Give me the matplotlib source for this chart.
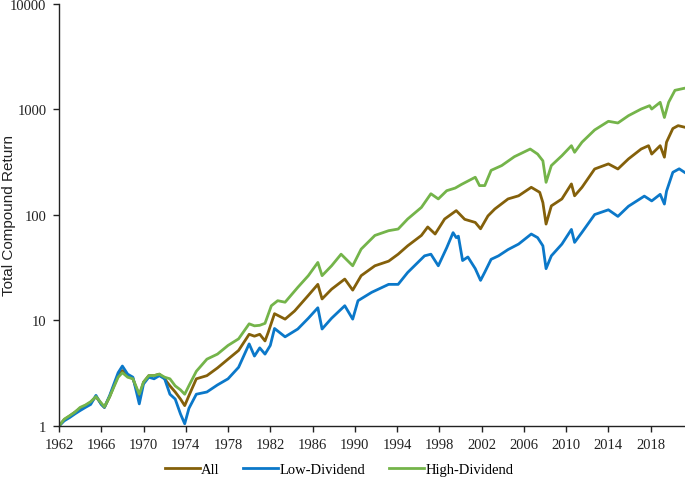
import numpy as np
import matplotlib
matplotlib.use("Agg")
import matplotlib.pyplot as plt
from matplotlib.ticker import FixedLocator, NullLocator

# Datos (ano, rendimiento compuesto total)
yrs_all = [1962.0, 1962.5, 1963.0, 1963.5, 1964.0, 1964.5, 1965.0, 1965.5, 1966.0, 1966.3,
           1966.8, 1967.2, 1967.6, 1968.0, 1968.5, 1969.0, 1969.6, 1970.0, 1970.5, 1971.0,
           1971.5, 1972.0, 1972.5, 1973.0, 1973.5, 1973.9, 1974.3, 1975.0, 1976.0, 1977.0,
           1978.0, 1979.0, 1980.0, 1980.5, 1981.0, 1981.5, 1981.8, 1982.4, 1983.4, 1984.3,
           1985.6, 1986.5, 1986.9, 1987.8, 1989.05, 1989.8, 1990.6, 1991.9, 1993.2, 1994.1,
           1995.0, 1996.3, 1996.9, 1997.6, 1998.5, 1999.6, 2000.4, 2001.4, 2001.9, 2002.6,
           2003.25, 2004.5, 2005.5, 2006.7, 2007.5, 2007.8, 2008.1, 2008.6, 2009.6, 2010.5,
           2010.8, 2011.5, 2012.7, 2014.0, 2014.9, 2015.9, 2017.1, 2017.8, 2018.1, 2018.9,
           2019.3, 2019.5, 2020.1, 2020.6, 2021.2]
ret_all = [1.0, 1.15, 1.24, 1.35, 1.47, 1.56, 1.67, 1.9, 1.62, 1.5,
           1.9, 2.4, 3.0, 3.35, 3.0, 2.8, 1.9, 2.6, 3.0, 3.0,
           3.1, 2.8, 2.4, 2.1, 1.8, 1.56, 1.94, 2.8, 3.0, 3.55,
           4.3, 5.2, 7.4, 7.1, 7.4, 6.4, 7.7, 11.6, 10.3, 12.3,
           17.3, 22, 16, 19.8, 24.7, 19.4, 26.6, 33, 36.5, 42.5,
           51, 64, 77, 66, 91.6, 110, 91, 85, 74, 98,
           114, 142, 152, 183, 164, 131, 82, 122, 142, 197,
           152, 183, 273, 305, 273, 340, 422, 454, 378, 454,
           353, 490, 660, 703, 680]

yrs_low = [1962.0, 1962.5, 1963.0, 1963.5, 1964.0, 1964.5, 1965.0, 1965.5, 1966.0, 1966.3,
           1966.8, 1967.2, 1967.6, 1968.0, 1968.5, 1969.0, 1969.6, 1970.0, 1970.5, 1971.0,
           1971.5, 1972.0, 1972.5, 1973.0, 1973.5, 1973.9, 1974.3, 1975.0, 1976.0, 1977.0,
           1978.0, 1979.0, 1980.0, 1980.5, 1981.0, 1981.5, 1982.0, 1982.4, 1983.4, 1984.6,
           1985.6, 1986.5, 1986.9, 1987.8, 1989.05, 1989.8, 1990.3, 1991.6, 1993.2, 1994.1,
           1995.0, 1996.6, 1997.2, 1997.9, 1998.7, 1999.3, 1999.6, 1999.8, 2000.2, 2000.7,
           2001.4, 2001.9, 2002.3, 2002.9, 2003.6, 2004.5, 2005.5, 2006.7, 2007.3, 2007.8,
           2008.1, 2008.6, 2009.6, 2010.5, 2010.8, 2011.5, 2012.7, 2014.0, 2014.9, 2015.9,
           2017.4, 2018.1, 2018.9, 2019.3, 2019.5, 2020.1, 2020.7, 2021.2]
ret_low = [1.0, 1.12, 1.2, 1.3, 1.4, 1.5, 1.6, 1.95, 1.6, 1.5,
           1.95, 2.5, 3.2, 3.7, 3.1, 2.9, 1.62, 2.5, 2.9, 2.8,
           3.0, 2.8, 2.0, 1.8, 1.3, 1.05, 1.47, 2.0, 2.1, 2.45,
           2.8, 3.6, 6.0, 4.6, 5.5, 4.8, 5.8, 8.4, 7.0, 8.3,
           10.5, 13.2, 8.3, 10.5, 13.8, 10.3, 15.4, 18.5, 22, 22,
           28.5, 41, 42.5, 33, 49, 68, 61, 63, 37, 40,
           31, 24, 28.7, 38, 41, 47, 53, 66, 61, 51,
           31, 41, 53, 73, 55, 68.5, 101, 112, 97, 121,
           151, 136, 157, 127, 168, 254, 274, 254]

yrs_high = [1962.0, 1962.5, 1963.0, 1963.5, 1964.0, 1964.5, 1965.0, 1965.5, 1966.0, 1966.3,
            1966.8, 1967.2, 1967.6, 1968.0, 1968.5, 1969.0, 1969.6, 1970.0, 1970.5, 1971.0,
            1971.5, 1972.0, 1972.5, 1973.0, 1973.5, 1973.9, 1974.3, 1975.0, 1976.0, 1977.0,
            1978.0, 1979.0, 1980.0, 1980.5, 1981.0, 1981.5, 1982.1, 1982.7, 1983.4, 1984.6,
            1985.6, 1986.5, 1986.9, 1987.8, 1988.7, 1989.8, 1990.6, 1991.9, 1993.2, 1994.1,
            1995.0, 1996.3, 1997.2, 1997.9, 1998.7, 1999.5, 2000.1, 2001.4, 2001.8, 2002.3,
            2002.9, 2003.9, 2005.1, 2006.6, 2007.3, 2007.8, 2008.1, 2008.6, 2009.6, 2010.5,
            2010.8, 2011.5, 2012.7, 2014.0, 2014.9, 2015.9, 2017.1, 2017.9, 2018.1, 2018.9,
            2019.3, 2019.7, 2020.3, 2021.2]
ret_high = [1.0, 1.16, 1.25, 1.35, 1.5, 1.58, 1.7, 1.9, 1.65, 1.52,
            1.9, 2.35, 2.9, 3.2, 2.9, 2.8, 2.0, 2.6, 3.0, 3.0,
            3.1, 2.9, 2.8, 2.4, 2.2, 2.0, 2.41, 3.3, 4.3, 4.8,
            5.8, 6.7, 9.3, 8.9, 9.0, 9.4, 13.8, 15.4, 14.9, 20.6,
            26.6, 35.5, 26.6, 33, 42.5, 33, 47.5, 64, 71, 73.6,
            91.6, 118, 159, 142, 170, 180, 195, 228, 190, 190,
            265, 294, 357, 422, 378, 326, 204, 294, 365, 454,
            393, 490, 640, 773, 745, 874, 1010, 1087, 1010, 1170,
            840, 1170, 1520, 1590]

x_ticks = list(range(1962, 2019, 4))
y_ticks = [1, 10, 100, 1000, 10000]

fig = plt.figure(figsize=(6.85, 4.81), dpi=100)
ax = fig.add_axes([0.0861, 0.1123, 0.9139, 0.8773])

ax.plot(yrs_all, ret_all, color="#84600A", lw=2.0, label="All")
ax.plot(yrs_low, ret_low, color="#0B78C9", lw=2.0, label="Low-Dividend")
ax.plot(yrs_high, ret_high, color="#74B44A", lw=2.0, label="High-Dividend")

ax.set_yscale("log")
ax.set_ylim(1, 10000)
ax.set_xlim(1962, 2021.25)
ax.yaxis.set_major_locator(FixedLocator(y_ticks))
ax.yaxis.set_minor_locator(NullLocator())
ax.set_yticklabels([str(v) for v in y_ticks])
ax.set_xticks(x_ticks)
ax.set_xticklabels([str(v) for v in x_ticks])

for s in ["top", "right"]:
    ax.spines[s].set_visible(False)
for s in ["left", "bottom"]:
    ax.spines[s].set_linewidth(1.0)
    ax.spines[s].set_color("#222222")
ax.tick_params(direction="out", length=4, width=1.0, color="#222222", pad=5,
               labelsize=10.5, labelcolor="#222222")
for lab in ax.get_xticklabels() + ax.get_yticklabels():
    lab.set_family("Liberation Serif")

# etiqueta del eje y, pegada al borde izquierdo
ax.set_ylabel("Total Compound Return", family="Liberation Sans", fontsize=11,
              color="#222222")
ax.yaxis.set_label_coords(-0.068, 0.5)

leg = fig.legend(loc="center", bbox_to_anchor=(0.495, 0.022), ncol=3, frameon=False,
                 prop={"family": "Liberation Serif", "size": 10.5},
                 handlelength=2.4, handletextpad=0.1, columnspacing=1.6)
for h in leg.get_lines():
    h.set_linewidth(2.0)

fig.savefig("out.png", dpi=100)
